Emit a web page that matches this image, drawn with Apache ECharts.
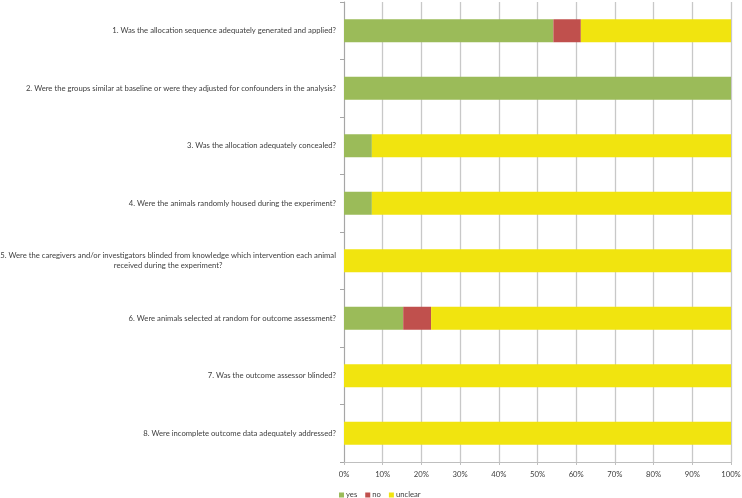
<!DOCTYPE html>
<html>
<head>
<meta charset="utf-8">
<script src="https://cdn.jsdelivr.net/npm/echarts@6/dist/echarts.min.js"></script>
<style>html,body{margin:0;padding:0;background:#fff}#c{width:742px;height:498px}</style>
</head>
<body>
<div id="c"></div>
<script>
const categories = [
  '1. Was the allocation sequence adequately generated and applied?',
  '2. Were the groups similar at baseline or were they adjusted for confounders in the analysis?',
  '3. Was the allocation adequately concealed?',
  '4. Were the animals randomly housed during the experiment?',
  '5. Were the caregivers and/or investigators blinded from knowledge which intervention each animal\nreceived during the experiment?',
  '6. Were animals selected at random for outcome assessment?',
  '7. Was the outcome assessor blinded?',
  '8. Were incomplete outcome data adequately addressed?'
];
const yesValues = [54.1, 100, 7.2, 7.2, 0, 15.3, 0, 0];
const noValues = [7.1, 0, 0, 0, 0, 7.2, 0, 0];
const unclearValues = [38.8, 0, 92.8, 92.8, 100, 77.5, 100, 100];
const seriesNames = ['yes', 'no', 'unclear'];
const colors = ['#9bbb59', '#c0504d', '#f1e40f'];

const font = 'Lato, "Liberation Sans", sans-serif';
const fs = 7.7;
const chart = echarts.init(document.getElementById('c'));
const dataSets = [yesValues, noValues, unclearValues];
chart.setOption({
  animation: false,
  grid: { left: 344, right: 11, top: 2, bottom: 36, containLabel: false, outerBoundsMode: 'none' },
  legend: {
    left: 334, top: 486,
    icon: 'rect', itemWidth: 5, itemHeight: 5, itemGap: 8,
    textStyle: { fontFamily: font, fontSize: fs, color: '#404040', padding: [0, 0, 0, -3] },
    data: seriesNames
  },
  xAxis: {
    type: 'value', min: 0, max: 100, interval: 10,
    axisLabel: { formatter: '{value}%', fontFamily: font, fontSize: fs, color: '#404040', margin: 9 },
    axisLine: { show: true, lineStyle: { color: '#bfbfbf' } },
    axisTick: { show: true, length: 3, lineStyle: { color: '#bfbfbf' } },
    splitLine: { show: true, lineStyle: { color: '#c8c8c8', width: 1.3 } }
  },
  yAxis: {
    type: 'category', inverse: true, data: categories,
    axisLine: { show: true, lineStyle: { color: '#a6a6a6' } },
    axisTick: { show: true, length: 4, lineStyle: { color: '#a6a6a6' } },
    axisLabel: {
      margin: 8, fontFamily: font, fontSize: fs, color: '#404040', lineHeight: 10,
      formatter: function (v) {
        return v.split('\n').map(function (l) { return '{c|' + l + '}'; }).join('\n');
      },
      rich: { c: { align: 'center', fontFamily: font, fontSize: fs, color: '#404040', lineHeight: 10 } }
    }
  },
  series: seriesNames.map(function (n, i) {
    return {
      name: n, type: 'bar', stack: 'total', data: dataSets[i],
      barWidth: 23, itemStyle: { color: colors[i] }
    };
  }),
  color: colors
});
</script>
</body>
</html>
